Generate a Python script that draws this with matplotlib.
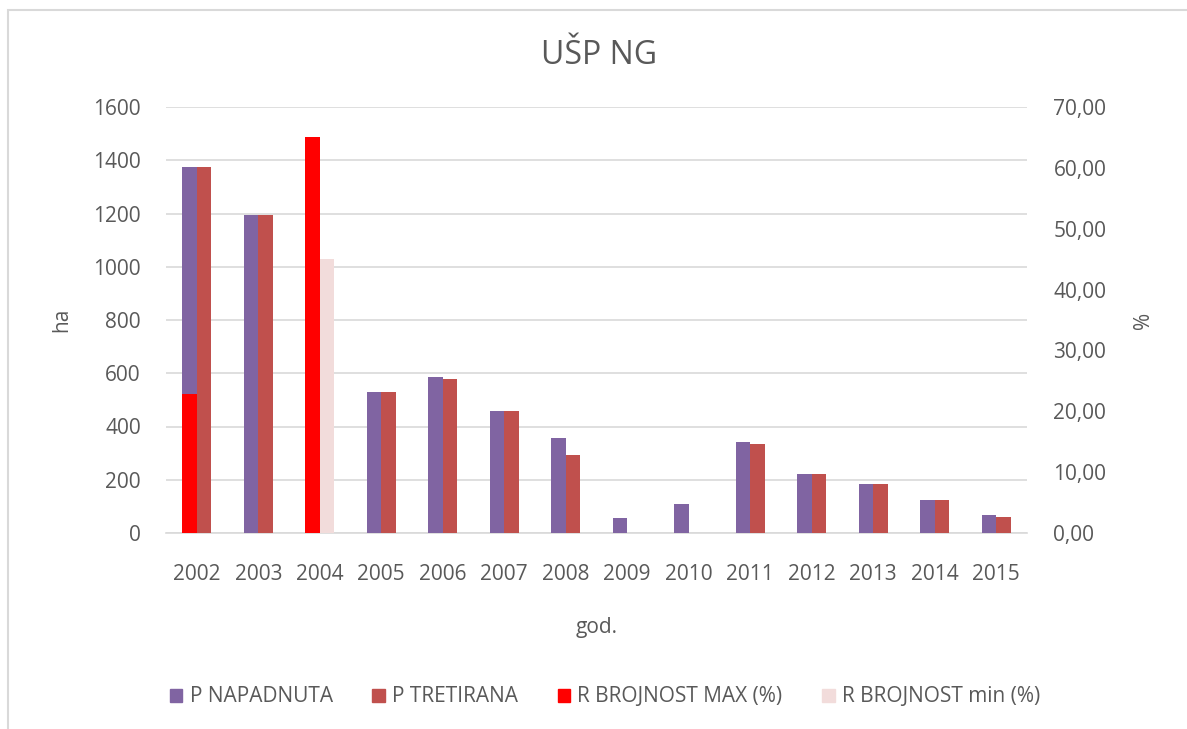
import matplotlib
matplotlib.use("Agg")
import matplotlib.pyplot as plt
import numpy as np
from matplotlib.patches import Patch, Rectangle
from matplotlib.ticker import FuncFormatter

years = ["2002", "2003", "2004", "2005", "2006", "2007", "2008",
         "2009", "2010", "2011", "2012", "2013", "2014", "2015"]
p_napadnuta = [1375, 1195, 0, 530, 585, 460, 357, 55, 110, 340, 221, 184, 123, 66]
p_tretirana = [1375, 1195, 0, 530, 580, 460, 293, 0, 0, 334, 221, 184, 123, 61]
r_max = [22.8, np.nan, 65.0, np.nan, np.nan, np.nan, np.nan, np.nan, np.nan,
         np.nan, np.nan, np.nan, np.nan, np.nan]
r_min = [np.nan, np.nan, 45.0, np.nan, np.nan, np.nan, np.nan, np.nan, np.nan,
         np.nan, np.nan, np.nan, np.nan, np.nan]

plt.rcParams['font.family'] = ['Open Sans', 'DejaVu Sans']
gray = '#595959'
c_nap = '#8064A2'
c_tre = '#C0504D'
c_max = '#FF0000'
c_min = '#F2DCDB'

W, H = 1187, 729
fig = plt.figure(figsize=(W/100, H/100), dpi=100)
ax = fig.add_axes([166/W, 1-533/H, (1027-166)/W, (533-107)/H])
ax2 = ax.twinx()

x = np.arange(len(years))
w = 0.235
ax.bar(x - w/2, p_napadnuta, w, color=c_nap, zorder=3)
ax.bar(x + w/2, p_tretirana, w, color=c_tre, zorder=3)
ax2.bar(x - w/2, r_max, w, color=c_max, zorder=3)
ax2.bar(x + w/2, r_min, w, color=c_min, zorder=3)

ax.set_ylim(0, 1600)
ax.set_yticks(range(0, 1601, 200))
ax2.set_ylim(0, 70)
ax2.set_yticks(range(0, 71, 10))
ax2.yaxis.set_major_formatter(FuncFormatter(lambda v, p: f"{v:.2f}".replace('.', ',')))
ax.set_xlim(-0.5, len(years) - 0.5)
ax.set_xticks(x)
ax.set_xticklabels(years)

ax.grid(axis='y', color='#d9d9d9', linewidth=1.2, zorder=0)
ax.set_axisbelow(True)
for a in (ax, ax2):
    for s in a.spines.values():
        s.set_visible(False)
    a.tick_params(length=0, labelsize=15, labelcolor=gray)
ax.spines['bottom'].set_visible(True)
ax.spines['bottom'].set_color('#d9d9d9')
ax.spines['bottom'].set_linewidth(1.2)
ax.tick_params(axis='x', pad=22)
ax.tick_params(axis='y', pad=18)
ax2.tick_params(axis='y', pad=19)

fig.text(62/W, 1-320/H, 'ha', fontsize=15, color=gray, rotation=90, ha='center', va='center')
fig.text(1143/W, 1-320/H, '%', fontsize=15, color=gray, rotation=90, ha='center', va='center')
fig.text(597/W, 1-627/H, 'god.', fontsize=15, color=gray, ha='center', va='center')
fig.text(599/W, 1-55/H, 'UŠP NG', fontsize=23, color=gray, ha='center', va='center')

handles = [Patch(color=c_nap), Patch(color=c_tre), Patch(color=c_max), Patch(color=c_min)]
labels = ['P NAPADNUTA', 'P TRETIRANA', 'R BROJNOST MAX (%)', 'R BROJNOST min (%)']
fig.legend(handles, labels, loc='center', bbox_to_anchor=(605/W, 1-697/H), ncol=4,
           frameon=False, fontsize=15, labelcolor=gray, handlelength=0.6, handleheight=0.6,
           handletextpad=0.35, columnspacing=1.9)

fig.patches.append(Rectangle((8/W, -0.1), 1.2, 1.1 - 10/H, transform=fig.transFigure,
                             fill=False, edgecolor='#d9d9d9', linewidth=1.5))

fig.savefig('out.png', dpi=100)
